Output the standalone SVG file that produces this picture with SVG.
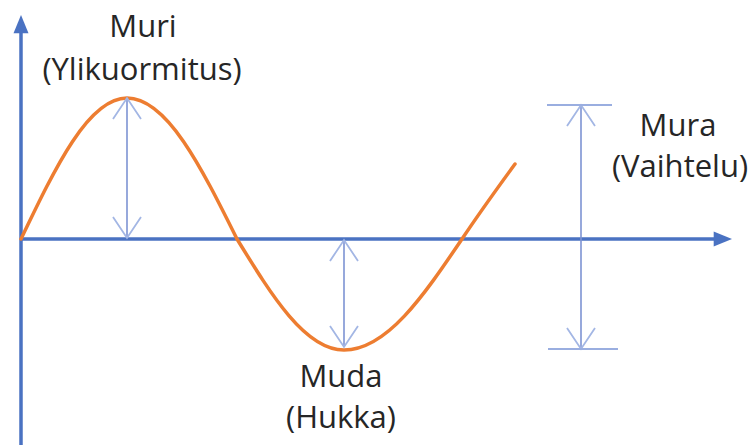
<svg xmlns="http://www.w3.org/2000/svg" width="754" height="445" viewBox="0 0 754 445">
  <style>
    .axis { stroke: #4A72C2; stroke-width: 3.5; fill: none; }
    .wave { stroke: #ED7D31; stroke-width: 3.5; fill: none; stroke-linecap: round; }
    .dim { stroke: #7D93D3; stroke-width: 1.6; fill: none; }
    .tick { stroke: #9AAEE0; stroke-width: 1.8; fill: none; }
    .lbl { font-family: "Open Sans", "Liberation Sans", sans-serif; font-size: 31px; fill: #262626; text-anchor: middle; }
  </style>
  <defs>
    <marker id="tri" markerUnits="userSpaceOnUse" markerWidth="20" markerHeight="20" viewBox="-10 -6 12 12" refX="0" refY="0" orient="auto" overflow="visible">
      <path d="M-8,-4.5 L3,0 L-8,4.5 Z" fill="#4A72C2"/>
    </marker>
    <marker id="vee" markerUnits="userSpaceOnUse" markerWidth="30" markerHeight="30" viewBox="-22 -15 24 30" refX="0" refY="0" orient="auto-start-reverse" overflow="visible">
      <path d="M-21,-14 L0,0 L-21,14" fill="none" stroke="#A3B6E4" stroke-width="1.8"/>
    </marker>
  </defs>

  <g id="axes">
    <line class="axis" x1="21" y1="445" x2="21" y2="20" marker-end="url(#tri)"/>
    <line class="axis" x1="21" y1="239" x2="727" y2="239" marker-end="url(#tri)"/>
  </g>

  <g id="wave">
    <path class="wave" d="M21,239 C55.6,166.8 88.6,98 127,98 C166.8,98 201.1,166.8 237,239 C271.9,295.9 305.3,350 344,350 C386.7,350 423.5,295.9 462,239 C478,215 496,190 515,164"/>
  </g>

  <g id="connectors">
    <line class="dim" x1="127" y1="98" x2="127" y2="238" marker-start="url(#vee)" marker-end="url(#vee)"/>
    <line class="dim" x1="344" y1="240" x2="344" y2="347" marker-start="url(#vee)" marker-end="url(#vee)"/>
    <line class="dim" x1="581" y1="105" x2="581" y2="349" marker-start="url(#vee)" marker-end="url(#vee)"/>
    <line class="tick" x1="547" y1="105" x2="612" y2="105"/>
    <line class="tick" x1="548" y1="349" x2="618" y2="349"/>
  </g>

  <g id="muri">
    <text class="lbl" x="143" y="37">Muri</text>
    <text class="lbl" x="142" y="80">(Ylikuormitus)</text>
  </g>
  <g id="mura">
    <text class="lbl" x="678" y="136">Mura</text>
    <text class="lbl" x="680" y="177">(Vaihtelu)</text>
  </g>
  <g id="muda">
    <text class="lbl" x="341" y="387">Muda</text>
    <text class="lbl" x="341" y="428">(Hukka)</text>
  </g>
</svg>
